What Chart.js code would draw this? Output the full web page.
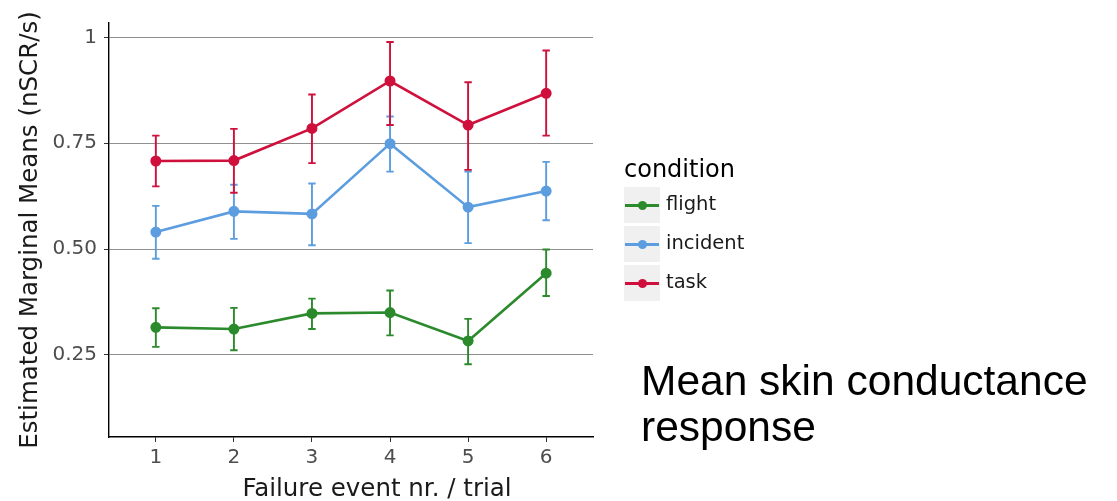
<!DOCTYPE html>
<html>
<head>
<meta charset="utf-8">
<script src="https://cdn.jsdelivr.net/npm/chart.js@4.4.1/dist/chart.umd.min.js"></script>
<style>
  body { margin: 0; background: #fff; font-family: "DejaVu Sans", sans-serif; }
  #page { position: relative; width: 1117px; height: 501px; overflow: hidden; }
  #chart { position: absolute; left: 0; top: 0; }
  .xtitle { position: absolute; left: 177px; top: 474px; width: 400px; text-align: center;
            font-size: 24.5px; line-height: 28px; color: #1a1a1a; white-space: nowrap; }
  .ltitle { position: absolute; left: 624px; top: 155px; font-size: 24px; line-height: 28px; color: #000; }
  .key { position: absolute; left: 624px; width: 36px; height: 36px; background: #f0f0f0; }
  .key i { position: absolute; left: 1px; right: 1px; top: 17px; height: 3px; }
  .key b { position: absolute; left: 14px; top: 14px; width: 9px; height: 9px; border-radius: 50%; }
  .lab { position: absolute; left: 666px; font-size: 19.5px; line-height: 36px; color: #1a1a1a; }
  .note { position: absolute; left: 641px; top: 358px; font-family: "Liberation Sans", Arial, sans-serif;
          font-size: 42.5px; line-height: 46px; color: #000; }
</style>
</head>
<body>
<div id="page">
  <canvas id="chart" width="1117" height="501"></canvas>
  <div class="xtitle">Failure event nr. / trial</div>
  <div id="legend"></div>
  <div class="note">Mean skin conductance<br>response</div>
</div>
<script>
// ---- data ----
const trials = [1, 2, 3, 4, 5, 6];
const conditions = ['flight', 'incident', 'task'];
const colors = ['#2b8a2b', '#5c9ddf', '#d0103c'];

const flightMean   = [0.315, 0.311, 0.348, 0.350, 0.283, 0.443];
const flightLow    = [0.269, 0.261, 0.311, 0.296, 0.228, 0.389];
const flightHigh   = [0.360, 0.361, 0.383, 0.402, 0.335, 0.499];

const incidentMean = [0.540, 0.589, 0.583, 0.749, 0.599, 0.637];
const incidentLow  = [0.477, 0.524, 0.509, 0.683, 0.514, 0.568];
const incidentHigh = [0.602, 0.652, 0.655, 0.813, 0.683, 0.706];

const taskMean     = [0.708, 0.709, 0.785, 0.897, 0.793, 0.868];
const taskLow      = [0.648, 0.633, 0.703, 0.793, 0.687, 0.768];
const taskHigh     = [0.768, 0.784, 0.865, 0.989, 0.894, 0.969];

const yTicks = [0.25, 0.5, 0.75, 1];
const yTickLabels = ['0.25', '0.50', '0.75', '1'];

const means = [flightMean, incidentMean, taskMean];
const lows = [flightLow, incidentLow, taskLow];
const highs = [flightHigh, incidentHigh, taskHigh];

// legend (html, ggplot style keys)
const legend = document.getElementById('legend');
let html = '<div class="ltitle">condition</div>';
conditions.forEach((c, i) => {
  const top = 187 + i * 39;
  html += `<div class="key" style="top:${top}px"><i style="background:${colors[i]}"></i><b style="background:${colors[i]}"></b></div>`;
  html += `<div class="lab" style="top:${top - 1}px">${c}</div>`;
});
legend.innerHTML = html;

// error bars drawn from the same scales
const errorBars = {
  id: 'errorBars',
  beforeDatasetsDraw(chart) {
    const { ctx, scales: { x, y } } = chart;
    chart.data.datasets.forEach(ds => {
      ctx.save();
      ctx.strokeStyle = ds.borderColor;
      ctx.lineWidth = 1.9;
      ds.data.forEach((p, j) => {
        const px = x.getPixelForValue(p.x);
        const top = y.getPixelForValue(ds.errHigh[j]);
        const bot = y.getPixelForValue(ds.errLow[j]);
        ctx.beginPath();
        ctx.moveTo(px, top); ctx.lineTo(px, bot);
        ctx.moveTo(px - 3.7, top); ctx.lineTo(px + 3.7, top);
        ctx.moveTo(px - 3.7, bot); ctx.lineTo(px + 3.7, bot);
        ctx.stroke();
      });
      ctx.restore();
    });
  }
};

Chart.defaults.font.family = "'DejaVu Sans', sans-serif";

new Chart(document.getElementById('chart'), {
  type: 'line',
  data: {
    datasets: conditions.map((c, i) => ({
      label: c,
      data: trials.map((t, j) => ({ x: t, y: means[i][j] })),
      errLow: lows[i],
      errHigh: highs[i],
      borderColor: colors[i],
      backgroundColor: colors[i],
      borderWidth: 2.6,
      pointRadius: 4.2,
      pointHoverRadius: 4.2,
      tension: 0,
      order: 3 - i
    }))
  },
  options: {
    responsive: false,
    animation: false,
    layout: { padding: { left: 0, top: 23, right: 524, bottom: 0 } },
    plugins: { legend: { display: false }, tooltip: { enabled: false } },
    scales: {
      x: {
        type: 'linear',
        min: 0.4, max: 6.6,
        afterBuildTicks: s => { s.ticks = trials.map(v => ({ value: v })); },
        afterFit: s => { s.height = 64; },
        grid: { drawOnChartArea: false, drawTicks: true, tickLength: 5, tickColor: '#333' },
        border: { display: true, color: '#000', width: 1.4 },
        ticks: { color: '#4d4d4d', font: { size: 20 }, padding: 4, callback: v => String(v) }
      },
      y: {
        type: 'linear',
        min: 0.056, max: 1.034,
        afterBuildTicks: s => { s.ticks = yTicks.map(v => ({ value: v })); },
        afterFit: s => { s.width = 109; },
        grid: { color: '#8f8f8f', lineWidth: 1, drawTicks: true, tickLength: 5, tickColor: '#333' },
        border: { display: true, color: '#000', width: 1.4 },
        ticks: {
          color: '#4d4d4d', font: { size: 20 }, padding: 7,
          callback: v => yTickLabels[yTicks.indexOf(v)]
        },
        title: {
          display: true, text: 'Estimated Marginal Means (nSCR/s)',
          color: '#1a1a1a', font: { size: 24.5 }, padding: { top: 16, bottom: 0 }
        }
      }
    }
  },
  plugins: [errorBars]
});
</script>
</body>
</html>
